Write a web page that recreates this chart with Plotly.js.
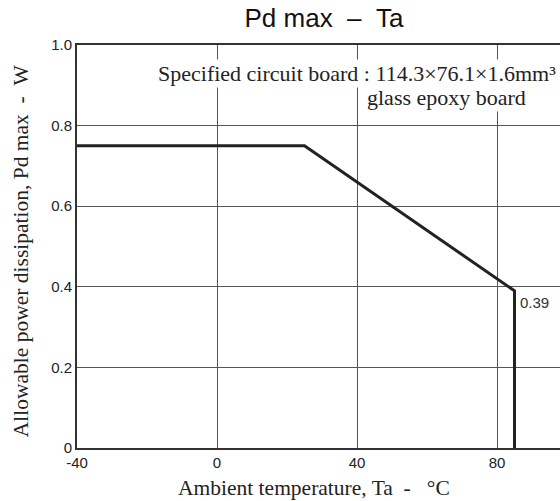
<!DOCTYPE html>
<html>
<head>
<meta charset="utf-8">
<script src="https://cdn.plot.ly/plotly-3.0.1.min.js"></script>
<style>html,body{margin:0;padding:0;background:#fff;}#chart{width:560px;height:501px;}</style>
</head>
<body>
<div id="chart"></div>
<script>
// Derating curve: Pd max vs ambient temperature
const temperature = [-40, 25, 85, 85];
const pdMax = [0.75, 0.75, 0.39, 0];
const xTickVals = [-40, 0, 40, 80];
const xTickText = ['-40', '0', '40', '80'];
const yTickVals = [0, 0.2, 0.4, 0.6, 0.8, 1.0];
const yTickText = ['0', '0.2', '0.4', '0.6', '0.8', '1.0'];
const kneeLabel = '0.39';

const serif = 'Liberation Serif, Times New Roman, serif';
const sans = 'Liberation Sans, Arial, sans-serif';
const nb = '\u00a0';

const trace = {
  x: temperature, y: pdMax, type: 'scatter', mode: 'lines',
  line: {color: '#222', width: 3}, hoverinfo: 'skip', cliponaxis: false
};

const layout = {
  width: 560, height: 501,
  margin: {l: 77, r: 0, t: 44.5, b: 53, pad: 0},
  paper_bgcolor: '#fff', plot_bgcolor: '#fff',
  showlegend: false,
  title: {text: 'Pd max' + nb + nb + '–' + nb + nb + 'Ta', font: {family: sans, size: 26, color: '#111'},
          x: 324 / 560, xref: 'container', xanchor: 'center', y: 0.982, yref: 'container', yanchor: 'top'},
  xaxis: {
    range: [-40, 98], tickvals: xTickVals, ticktext: xTickText,
    showgrid: true, gridcolor: '#555', gridwidth: 1,
    showline: true, linecolor: '#333', linewidth: 2, mirror: true,
    zeroline: false, ticks: '', ticklen: 0,
    tickfont: {family: sans, size: 15, color: '#222'},
    fixedrange: true
  },
  yaxis: {
    range: [0, 1.0], tickvals: yTickVals, ticktext: yTickText,
    showgrid: true, gridcolor: '#555', gridwidth: 1,
    showline: true, linecolor: '#333', linewidth: 2,
    zeroline: false, ticks: '', ticklen: 0,
    tickfont: {family: sans, size: 15, color: '#222'},
    fixedrange: true
  },
  annotations: [
    {x: 86, y: 0.39, xref: 'x', yref: 'y', text: kneeLabel, showarrow: false,
     xanchor: 'left', yanchor: 'top', yshift: -1,
     font: {family: sans, size: 15, color: '#333'}},
    {x: 1, y: 0.929, xref: 'paper', yref: 'y', text: 'Specified circuit board : 114.3×76.1×1.6mm³',
     showarrow: false, xanchor: 'right', yanchor: 'middle', xshift: -2,
     bgcolor: '#fff', font: {family: serif, size: 22, color: '#222'}},
    {x: 88.9, y: 0.870, xref: 'x', yref: 'y', text: 'glass epoxy board',
     showarrow: false, xanchor: 'right', yanchor: 'middle',
     bgcolor: '#fff', font: {family: serif, size: 22, color: '#222'}},
    {x: (313.5 - 77) / 483, y: 0, xref: 'paper', yref: 'paper',
     text: 'Ambient temperature, Ta' + nb + nb + '-' + nb + nb + nb + '°C',
     showarrow: false, xanchor: 'center', yanchor: 'middle', yshift: -40,
     font: {family: serif, size: 21.5, color: '#222'}},
    {x: 0, y: (448 - 251) / 403.5, xref: 'paper', yref: 'paper',
     text: 'Allowable power dissipation, Pd max' + nb + nb + '-' + nb + nb + 'W',
     showarrow: false, xanchor: 'center', yanchor: 'middle', xshift: -56, textangle: -90,
     font: {family: serif, size: 21.5, color: '#222'}}
  ]
};

Plotly.newPlot('chart', [trace], layout, {displayModeBar: false, staticPlot: true});
</script>
</body>
</html>
